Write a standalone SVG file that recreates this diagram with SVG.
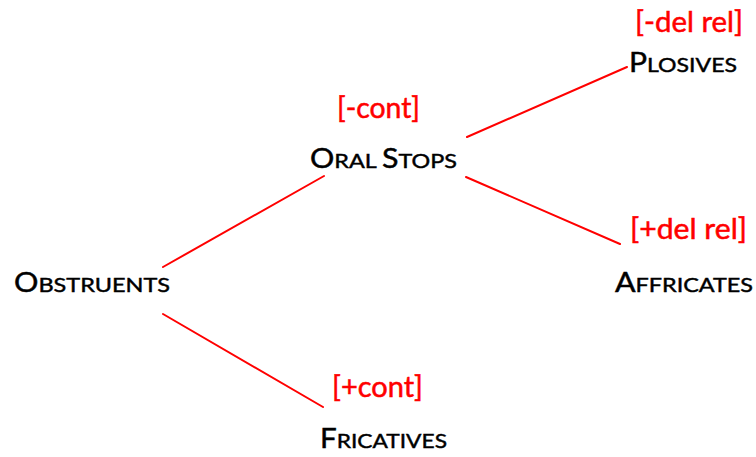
<svg xmlns="http://www.w3.org/2000/svg" width="756" height="457" viewBox="0 0 756 457">
<style>
.lbl{font-family:Lato,"Open Sans","Liberation Sans",sans-serif;fill:#000;stroke:#000;stroke-width:0.45}
.big{font-size:26px}
.sm{font-size:20px}
.feat{font-family:Lato,"Open Sans","Liberation Sans",sans-serif;font-size:28px;fill:#ff0000;stroke:#ff0000;stroke-width:0.5}
.edge{stroke:#ff0000;stroke-width:2;fill:none;stroke-linecap:round}
</style>
<rect width="756" height="457" fill="#fff"/>
<g id="connectors">
<line class="edge" x1="163" y1="267" x2="324" y2="176"/>
<line class="edge" x1="163" y1="314" x2="323" y2="407"/>
<line class="edge" x1="467" y1="137" x2="627" y2="67"/>
<line class="edge" x1="466" y1="177" x2="620" y2="244"/>
</g>
<g id="obstruents">
<text class="lbl" x="14" y="292" textLength="156" lengthAdjust="spacingAndGlyphs"><tspan class="big">O</tspan><tspan class="sm">BSTRUENTS</tspan></text>
</g>
<g id="oral-stops">
<text class="feat" x="337" y="118" textLength="83" lengthAdjust="spacingAndGlyphs">[-cont]</text>
<text class="lbl" x="310" y="168" textLength="147" lengthAdjust="spacingAndGlyphs"><tspan class="big">O</tspan><tspan class="sm">RAL </tspan><tspan class="big">S</tspan><tspan class="sm">TOPS</tspan></text>
</g>
<g id="plosives">
<text class="feat" x="635" y="32" textLength="108" lengthAdjust="spacingAndGlyphs">[-del rel]</text>
<text class="lbl" x="629" y="72" textLength="108" lengthAdjust="spacingAndGlyphs"><tspan class="big">P</tspan><tspan class="sm">LOSIVES</tspan></text>
</g>
<g id="affricates">
<text class="feat" x="630" y="239" textLength="117" lengthAdjust="spacingAndGlyphs">[+del rel]</text>
<text class="lbl" x="615" y="292" textLength="138" lengthAdjust="spacingAndGlyphs"><tspan class="big">A</tspan><tspan class="sm">FFRICATES</tspan></text>
</g>
<g id="fricatives">
<text class="feat" x="332" y="397" textLength="91" lengthAdjust="spacingAndGlyphs">[+cont]</text>
<text class="lbl" x="320" y="448" textLength="127" lengthAdjust="spacingAndGlyphs"><tspan class="big">F</tspan><tspan class="sm">RICATIVES</tspan></text>
</g>
</svg>
